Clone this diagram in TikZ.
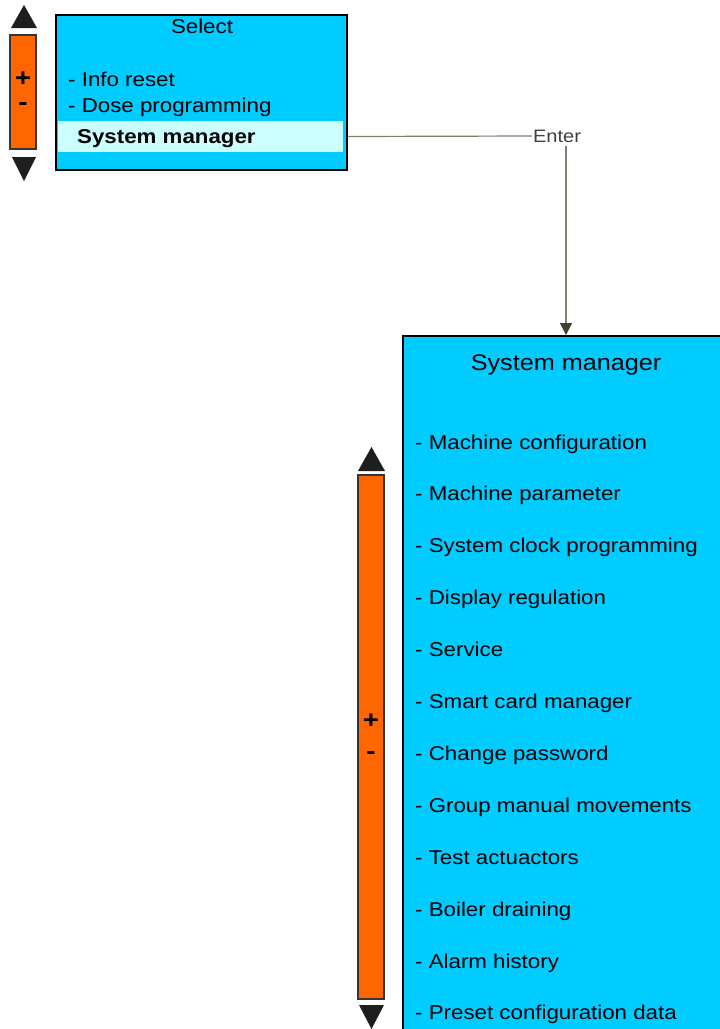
\documentclass[tikz,border=0pt]{standalone}
\usepackage{fontspec}
\setmainfont{Liberation Sans}[FakeStretch=1.115]
\usetikzlibrary{arrows.meta}
\definecolor{scr}{RGB}{0,204,255}
\definecolor{hil}{RGB}{204,255,255}
\definecolor{org}{RGB}{255,102,0}
\definecolor{drk}{RGB}{30,30,30}
\definecolor{lin}{RGB}{128,128,112}
\definecolor{arr}{RGB}{64,64,48}
\definecolor{lbl}{RGB}{64,64,64}
\tikzset{
  screen/.style={draw=black,line width=2pt,fill=scr,rectangle,inner sep=0pt},
  hlbar/.style={fill=hil,draw=none,rectangle,inner sep=0pt},
  scrollbar/.style={draw=drk!90,line width=2pt,fill=org,rectangle,inner sep=0pt},
  item/.style={anchor=base west,inner sep=0pt,font=\fontsize{20}{24}\selectfont},
  ttl/.style={anchor=base,inner sep=0pt,font=\fontsize{20}{24}\selectfont},
  bigttl/.style={anchor=base,inner sep=0pt,font=\fontsize{22.6}{27}\selectfont},
  pm/.style={inner sep=0pt,font=\fontsize{25}{28}\selectfont\bfseries},
  conn/.style={draw=lin,line width=1.2pt},
  tri/.style={fill=drk},
}
\begin{document}
\begin{tikzpicture}[x=1pt,y=-1pt]
\useasboundingbox (0,0) rectangle (720,1029);
\clip (0,0) rectangle (720,1029);
% top screen
\node[screen,minimum width=291pt,minimum height=155pt] (top) at (201.5,92.5) {};
\node[hlbar,minimum width=285pt,minimum height=31pt] (hl) at (200.5,136.5) {};
\node[ttl] (sel) at (202,33) {Select};
\node[item] (i1) at (68,86) {- Info reset};
\node[item] (i2) at (68,112) {- Dose programming};
\node[item,font=\fontsize{20}{24}\selectfont\bfseries] (i3) at (77,143) {System manager};
% top scroll
\node[scrollbar,minimum width=26pt,minimum height=114pt] (sb1) at (23,92) {};
\node[pm] (p1) at (23,79) {+};
\node[pm] (m1) at (23,107) {-};
\fill[tri] (24,5) -- (37,28) -- (11,28) -- cycle;
\fill[tri] (12,157) -- (36,157) -- (24,181) -- cycle;
% big screen
\node[screen,anchor=north,minimum width=326pt,minimum height=720pt] (big) at (566,335) {};
\node[bigttl] (bt) at (566,370) {System manager};
\foreach \t [count=\k from 0] in {Machine configuration,Machine parameter,System clock programming,Display regulation,Service,Smart card manager,Change password,Group manual movements,Test actuactors,Boiler draining,Alarm history,Preset configuration data}{
  \node[item] (b\k) at (415,{449+51.9*\k}) {- \t};
}
% big scroll
\node[scrollbar,minimum width=26pt,minimum height=524pt] (sb2) at (371,737) {};
\node[pm] (p2) at (371,721) {+};
\node[pm] (m2) at (371,756) {-};
\fill[tri] (371.5,447) -- (385,471) -- (358,471) -- cycle;
\fill[tri] (359,1005) -- (384,1005) -- (371.5,1029) -- cycle;
% connector
\node[inner sep=1pt,text=lbl,font=\fontsize{18}{20}\selectfont] (enter) at (557,136) {Enter};
\draw[conn] (hl.east -| top.east) -- (enter.west);
\draw[conn,-{Triangle[length=12pt,width=12pt,fill=arr,color=arr]}] ([yshift=-3pt]enter.south -| big.north) -- (big.north);
\end{tikzpicture}
\end{document}
